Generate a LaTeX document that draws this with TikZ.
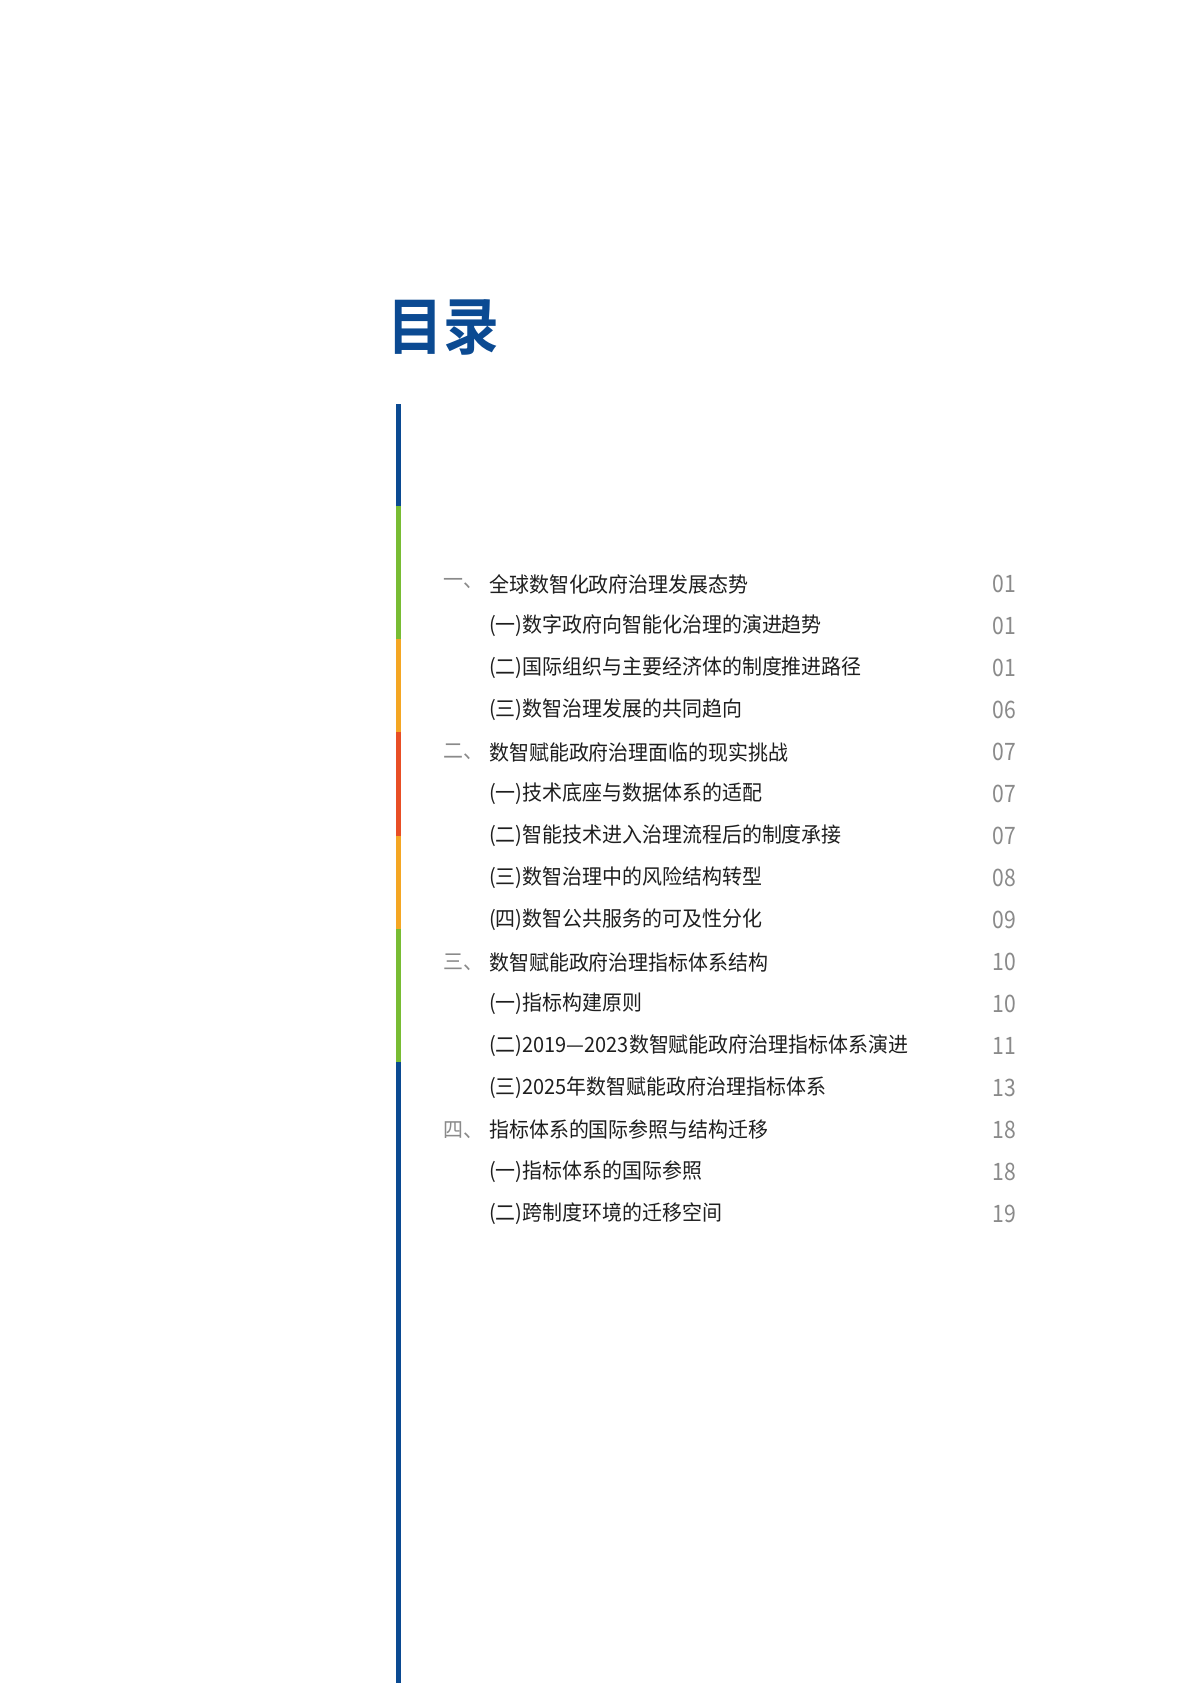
\documentclass[tikz,border=0pt]{standalone}
\usepackage{fontspec}
\setmainfont{Noto Sans CJK SC}
\newfontfamily\hfont[FakeStretch=0.95]{Noto Sans CJK SC}
\newfontfamily\sfont[FakeStretch=0.78]{Noto Sans CJK SC}
\newfontfamily\tfont[FakeStretch=0.9]{Noto Sans CJK SC Bold}
\newfontfamily\nfont[FakeStretch=0.88]{Noto Sans CJK SC}
\definecolor{tblue}{HTML}{0B4A92}
\definecolor{tgreen}{HTML}{78BC33}
\definecolor{torange}{HTML}{F4A623}
\definecolor{tred}{HTML}{E84E25}
\definecolor{headc}{HTML}{1E1E1E}
\definecolor{subc}{HTML}{3C3C3C}
\definecolor{numc}{HTML}{8A8A8A}
\begin{document}
\begin{tikzpicture}[x=1pt,y=-1pt,
  head/.style={anchor=west,inner sep=0pt,text=headc,font=\hfont\fontsize{21}{24}\selectfont},
  hnum/.style={anchor=west,inner sep=0pt,text=numc,font=\hfont\fontsize{21}{24}\selectfont},
  sub/.style={anchor=west,inner sep=0pt,text=subc,font=\sfont\fontsize{18}{20}\selectfont},
  pg/.style={anchor=east,inner sep=0pt,text=numc,font=\nfont\fontsize{24}{26}\selectfont}]
\useasboundingbox (0,0) rectangle (1191,1683);
\fill[white] (0,0) rectangle (1191,1683);
\node[anchor=west,inner sep=0pt,text=tblue,font=\tfont\fontsize{62}{64}\selectfont] (title) at (387,327) {目录};
\fill[tblue] (396,404) rectangle (401,506);
\fill[tgreen] (396,506) rectangle (401,639);
\fill[torange] (396,639) rectangle (401,732);
\fill[tred] (396,732) rectangle (401,836);
\fill[torange] (396,836) rectangle (401,929);
\fill[tgreen] (396,929) rectangle (401,1062);
\fill[tblue] (396,1062) rectangle (401,1683);
\foreach \i/\k/\t/\p in {
 0/h1/全球数智化政府治理发展态势/01,
 1/s/(一)数字政府向智能化治理的演进趋势/01,
 2/s/(二)国际组织与主要经济体的制度推进路径/01,
 3/s/(三)数智治理发展的共同趋向/06,
 4/h2/数智赋能政府治理面临的现实挑战/07,
 5/s/(一)技术底座与数据体系的适配/07,
 6/s/(二)智能技术进入治理流程后的制度承接/07,
 7/s/(三)数智治理中的风险结构转型/08,
 8/s/(四)数智公共服务的可及性分化/09,
 9/h3/数智赋能政府治理指标体系结构/10,
 10/s/(一)指标构建原则/10,
 11/s/(二)2019—2023数智赋能政府治理指标体系演进/11,
 12/s/(三)2025年数智赋能政府治理指标体系/13,
 13/h4/指标体系的国际参照与结构迁移/18,
 14/s/(一)指标体系的国际参照/18,
 15/s/(二)跨制度环境的迁移空间/19}{
  \pgfmathsetmacro\yy{584+42*\i}
  \ifx\k s
    \node[sub] (e\i) at (495,\yy) {\t};
  \else
    \node[head] (e\i) at (489,\yy) {\t};
  \fi
  \node[pg] (p\i) at (1016,\yy) {\p};
}
\node[hnum] (n1) at (443,584) {一、};
\node[hnum] (n2) at (443,752) {二、};
\node[hnum] (n3) at (443,962) {三、};
\node[hnum] (n4) at (443,1130) {四、};
\end{tikzpicture}
\end{document}
